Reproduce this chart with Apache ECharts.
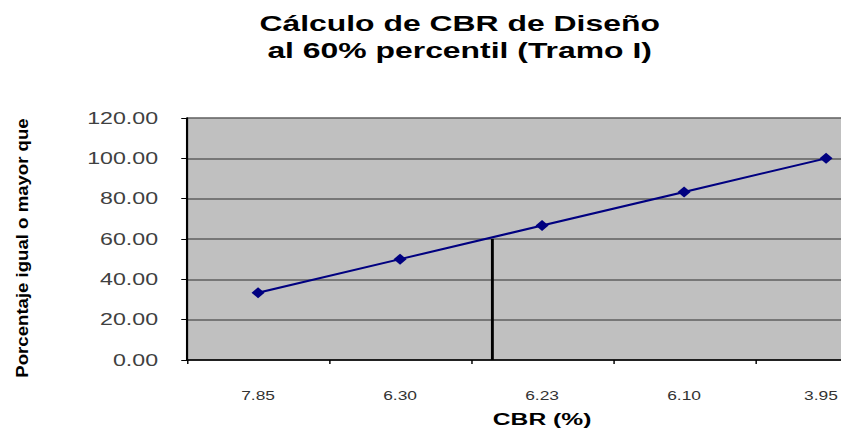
<!DOCTYPE html>
<html>
<head>
<meta charset="utf-8">
<script src="https://cdn.jsdelivr.net/npm/echarts@6/dist/echarts.min.js"></script>
<style>
  html, body { margin: 0; padding: 0; background: #ffffff; overflow: hidden; }
  #wrap { width: 841px; height: 433px; overflow: hidden; }
  #chart { width: 580px; height: 433px; transform: scaleX(1.45); transform-origin: 0 0; }
</style>
</head>
<body>
<div id="wrap"><div id="chart"></div></div>
<script>
// ---- data ----
const titleLines = ['Cálculo de CBR de Diseño', 'al 60% percentil (Tramo I)'];
const cbrCategories = ['7.85', '6.30', '6.23', '6.10', '3.95'];
const percentValues = [33.33, 50.00, 66.67, 83.33, 100.00];
const yAxisMin = 0;
const yAxisMax = 120;
const yAxisStep = 20;
const designPercentile = 60;      // 60% percentile
const designCategoryPos = 1.65;   // position along the category axis (index units)
const xAxisTitle = 'CBR (%)';
const yAxisTitle = 'Porcentaje igual o mayor que';

const chart = echarts.init(document.getElementById('chart'), null, { renderer: 'svg' });

const lastIdx = cbrCategories.length - 1;

const option = {
  animation: false,
  backgroundColor: '#ffffff',
  title: {
    text: titleLines.join('\n'),
    left: 312,
    top: 5,
    textAlign: 'center',
    textStyle: {
      fontFamily: 'Liberation Sans, Arial, sans-serif',
      fontWeight: 'bold',
      fontSize: 22,
      lineHeight: 27,
      color: '#000000'
    }
  },
  grid: {
    left: 129,
    right: -38.7,
    top: 118,
    bottom: 73,
    show: true,
    backgroundColor: '#c0c0c0',
    borderWidth: 0,
    containLabel: false,
    outerBoundsMode: 'none'
  },
  xAxis: [
    {
      type: 'category',
      data: cbrCategories,
      boundaryGap: true,
      name: xAxisTitle,
      nameLocation: 'middle',
      nameGap: 50,
      nameTextStyle: {
        fontFamily: 'Liberation Sans, Arial, sans-serif',
        fontWeight: 'bold',
        fontSize: 17,
        color: '#000000'
      },
      axisLine: { show: true, onZero: false, lineStyle: { color: '#000000', width: 1.5 } },
      axisTick: { show: true, length: 4, lineStyle: { color: '#000000' } },
      axisLabel: {
        margin: 30,
        fontFamily: 'Liberation Sans, Arial, sans-serif',
        fontSize: 12,
        color: '#333333',
        formatter: function (v, i) { return i === lastIdx ? '{e|' + v + '}' : v; },
        rich: {
          e: {
            fontFamily: 'Liberation Sans, Arial, sans-serif',
            fontSize: 12,
            color: '#333333',
            padding: [0, 7, 0, 0]
          }
        }
      },
      splitLine: { show: false }
    },
    {
      type: 'value',
      min: -0.5,
      max: cbrCategories.length - 0.5,
      show: false,
      axisLine: { show: false, onZero: false },
      splitLine: { show: false }
    }
  ],
  yAxis: {
    type: 'value',
    min: yAxisMin,
    max: yAxisMax,
    interval: yAxisStep,
    axisLine: { show: true, onZero: false, lineStyle: { color: '#000000', width: 1.5 } },
    axisTick: { show: true, length: 4, lineStyle: { color: '#000000' } },
    axisLabel: {
      margin: 20,
      fontFamily: 'Liberation Sans, Arial, sans-serif',
      fontSize: 16,
      color: '#404040',
      formatter: function (v) { return v.toFixed(2); }
    },
    splitLine: { show: true, lineStyle: { color: '#5f5f5f', width: 1.5 } }
  },
  graphic: [
    {
      type: 'text',
      x: 15.2,
      y: 248,
      rotation: Math.PI / 2,
      scaleX: 1.55,
      style: {
        text: yAxisTitle,
        font: 'bold 12px "Liberation Sans", Arial, sans-serif',
        fill: '#000000',
        align: 'center',
        verticalAlign: 'middle'
      }
    }
  ],
  series: [
    {
      type: 'line',
      name: 'Percentil',
      xAxisIndex: 0,
      data: percentValues,
      symbol: 'diamond',
      symbolSize: [9, 11],
      lineStyle: { color: '#000080', width: 2 },
      itemStyle: { color: '#000080' },
      z: 3
    },
    {
      type: 'line',
      name: 'CBR diseño',
      xAxisIndex: 1,
      data: [[designCategoryPos, yAxisMin], [designCategoryPos, designPercentile]],
      symbol: 'none',
      lineStyle: { color: '#000000', width: 2 },
      z: 2
    }
  ]
};

chart.setOption(option);
</script>
</body>
</html>
